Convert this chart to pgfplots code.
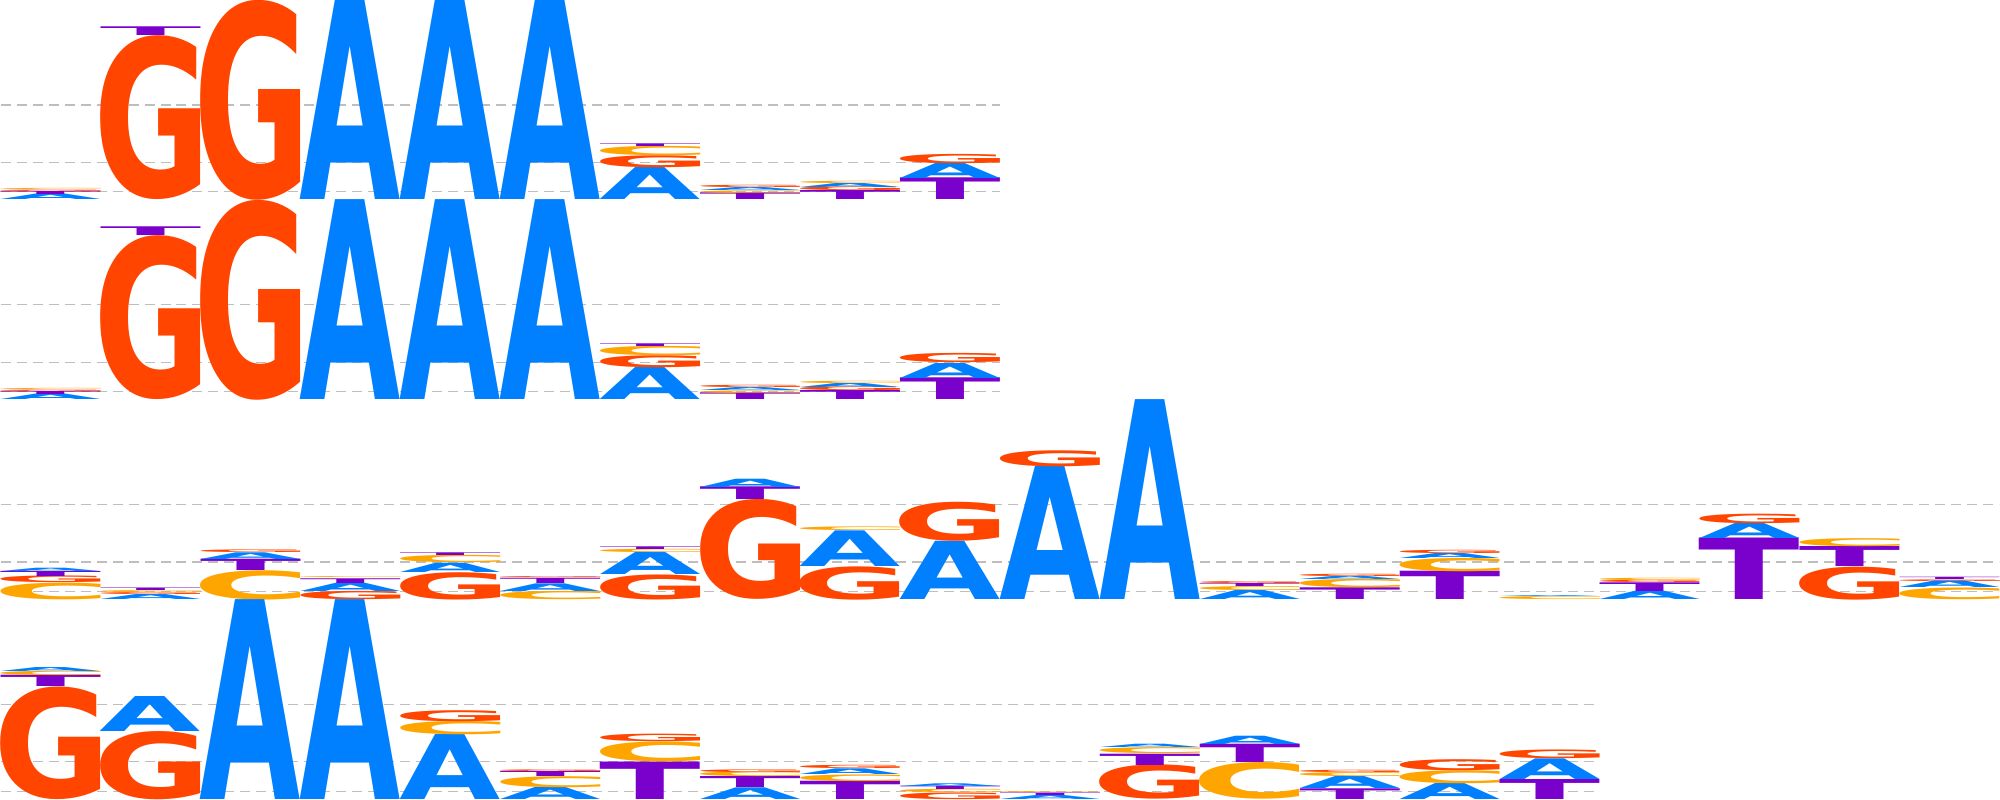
\documentclass[border=0pt]{standalone}
\usepackage{fontspec}
\usepackage{graphicx}
\usepackage{pgfplots}
\pgfplotsset{compat=1.18}
\newfontfamily\logofont{DejaVu Sans}
\definecolor{lcA}{HTML}{0080FF}
\definecolor{lcC}{HTML}{FFA500}
\definecolor{lcG}{HTML}{FF4500}
\definecolor{lcT}{HTML}{7A00CC}
\definecolor{gridc}{RGB}{190,190,190}
\newlength\logocolw \setlength\logocolw{50pt}
\newlength\logounit \setlength\logounit{50pt}
\newcommand{\logoglyph}[2]{%
  \begingroup\logofont\bfseries
  \dimen2=\XeTeXglyphbounds1 \XeTeXcharglyph`#1\relax
  \dimen4=\XeTeXglyphbounds3 \XeTeXcharglyph`#1\relax
  \setbox0=\hbox{\color{lc#1}\kern-\dimen2 #1\kern-\dimen4}%
  \resizebox*{\logocolw}{#2\logounit}{\box0}%
  \endgroup}
\pgfplotsset{
  logo/.style={x=50pt, y=50pt, xmin=0, ymin=0, ymax=2, hide axis, clip=false, anchor=south west},
  gridl/.style={gridc, line width=0.6pt, dash pattern=on 5pt off 3pt},
  letters/.style={only marks, mark=none,
    visualization depends on={value \thisrow{L}\as\ltr},
    visualization depends on={value \thisrow{h}\as\hh},
    nodes near coords={\expandafter\logoglyph\expandafter{\ltr}{\hh}},
    every node near coord/.append style={anchor=south, inner sep=0pt, outer sep=0pt}},
}
\begin{document}
\begin{tikzpicture}
% ---------------- row 1 ----------------
\begin{axis}[logo, xmax=10, at={(0pt,300pt)}]
\addplot[gridl] coordinates {(0,0.083) (10,0.083)};
\addplot[gridl] coordinates {(0,0.377) (10,0.377)};
\addplot[gridl] coordinates {(0,0.95) (10,0.95)};
\addplot[letters] table[x=x,y=y] {
x y h L
0.5 0 0.055 A
0.5 0.055 0.03 T
0.5 0.085 0.015 G
0.5 0.10 0.012 C
1.5 0 1.64 G
1.5 1.64 0.087 T
2.5 0 2.0 G
3.5 0 2.0 A
4.5 0 2.0 A
5.5 0 2.0 A
6.5 0 0.32 A
6.5 0.32 0.12 G
6.5 0.44 0.093 C
6.5 0.533 0.027 T
7.5 0 0.067 T
7.5 0.067 0.027 C
7.5 0.094 0.03 A
7.5 0.124 0.023 G
8.5 0 0.09 T
8.5 0.09 0.037 G
8.5 0.127 0.04 A
8.5 0.167 0.023 C
9.5 0 0.217 T
9.5 0.217 0.15 A
9.5 0.367 0.093 G
};
\end{axis}
% ---------------- row 2 ----------------
\begin{axis}[logo, xmax=10, at={(0pt,200pt)}]
\addplot[gridl] coordinates {(0,0.083) (10,0.083)};
\addplot[gridl] coordinates {(0,0.377) (10,0.377)};
\addplot[gridl] coordinates {(0,0.95) (10,0.95)};
\addplot[letters] table[x=x,y=y] {
x y h L
0.5 0 0.055 A
0.5 0.055 0.03 T
0.5 0.085 0.015 G
0.5 0.10 0.012 C
1.5 0 1.64 G
1.5 1.64 0.087 T
2.5 0 2.0 G
3.5 0 2.0 A
4.5 0 2.0 A
5.5 0 2.0 A
6.5 0 0.32 A
6.5 0.32 0.12 G
6.5 0.44 0.093 C
6.5 0.533 0.027 T
7.5 0 0.067 T
7.5 0.067 0.027 C
7.5 0.094 0.03 A
7.5 0.124 0.023 G
8.5 0 0.09 T
8.5 0.09 0.037 G
8.5 0.127 0.04 A
8.5 0.167 0.023 C
9.5 0 0.217 T
9.5 0.217 0.15 A
9.5 0.367 0.093 G
};
\end{axis}
% ---------------- row 3 ----------------
\begin{axis}[logo, xmax=20, at={(0pt,100pt)}]
\addplot[gridl] coordinates {(0,0.083) (20,0.083)};
\addplot[gridl] coordinates {(0,0.377) (20,0.377)};
\addplot[gridl] coordinates {(0,0.95) (20,0.95)};
\addplot[letters] table[x=x,y=y] {
x y h L
0.5 0 0.167 C
0.5 0.167 0.067 G
0.5 0.234 0.05 T
0.5 0.284 0.033 A
1.5 0 0.05 A
1.5 0.05 0.02 G
1.5 0.07 0.02 C
1.5 0.09 0.025 T
2.5 0 0.293 C
2.5 0.293 0.113 T
2.5 0.406 0.067 A
2.5 0.473 0.027 G
3.5 0 0.083 G
3.5 0.083 0.083 A
3.5 0.166 0.047 T
3.5 0.213 0.01 C
4.5 0 0.273 G
4.5 0.273 0.093 A
4.5 0.366 0.073 C
4.5 0.439 0.027 T
5.5 0 0.083 C
5.5 0.083 0.077 A
5.5 0.16 0.053 T
5.5 0.213 0.01 G
6.5 0 0.25 G
6.5 0.25 0.223 A
6.5 0.473 0.033 C
6.5 0.506 0.027 T
7.5 0 1.0 G
7.5 1.0 0.127 T
7.5 1.127 0.083 A
8.5 0 0.333 G
8.5 0.333 0.357 A
8.5 0.69 0.037 C
9.5 0 0.583 A
9.5 0.583 0.39 G
10.5 0 1.333 A
10.5 1.333 0.16 G
11.5 0 2.0 A
12.5 0 0.09 A
12.5 0.09 0.04 C
12.5 0.13 0.03 T
12.5 0.16 0.02 G
13.5 0 0.117 T
13.5 0.117 0.083 C
13.5 0.2 0.033 A
13.5 0.233 0.023 G
14.5 0 0.283 T
14.5 0.283 0.133 C
14.5 0.416 0.05 A
14.5 0.466 0.033 G
15.5 0 0.03 C
15.5 0.03 0.01 A
16.5 0 0.083 A
16.5 0.083 0.087 T
16.5 0.17 0.023 G
16.5 0.193 0.023 C
17.5 0 0.615 T
17.5 0.615 0.15 A
17.5 0.765 0.095 G
18.5 0 0.33 G
18.5 0.33 0.2 T
18.5 0.53 0.08 C
19.5 0 0.117 C
19.5 0.117 0.067 A
19.5 0.184 0.017 G
19.5 0.201 0.023 T
};
\end{axis}
% ---------------- row 4 ----------------
\begin{axis}[logo, xmax=16, at={(0pt,0pt)}]
\addplot[gridl] coordinates {(0,0.083) (16,0.083)};
\addplot[gridl] coordinates {(0,0.377) (16,0.377)};
\addplot[gridl] coordinates {(0,0.95) (16,0.95)};
\addplot[letters] table[x=x,y=y] {
x y h L
0.5 0 1.127 G
0.5 1.127 0.113 T
0.5 1.24 0.043 C
0.5 1.283 0.04 A
1.5 0 0.683 G
1.5 0.683 0.35 A
2.5 0 2.0 A
3.5 0 2.0 A
4.5 0 0.65 A
4.5 0.65 0.133 C
4.5 0.783 0.11 G
5.5 0 0.123 A
5.5 0.123 0.11 C
5.5 0.233 0.05 T
5.5 0.283 0.017 G
6.5 0 0.375 T
6.5 0.375 0.2 C
6.5 0.575 0.075 G
7.5 0 0.117 A
7.5 0.117 0.11 T
7.5 0.227 0.047 C
7.5 0.274 0.027 G
8.5 0 0.183 T
8.5 0.183 0.067 C
8.5 0.25 0.057 A
8.5 0.307 0.033 G
9.5 0 0.067 G
9.5 0.067 0.033 C
9.5 0.1 0.033 T
9.5 0.133 0.027 A
10.5 0 0.04 A
10.5 0.04 0.025 T
10.5 0.065 0.01 C
11.5 0 0.343 G
11.5 0.343 0.113 T
11.5 0.456 0.06 C
11.5 0.516 0.033 A
12.5 0 0.367 C
12.5 0.367 0.183 T
12.5 0.55 0.083 A
13.5 0 0.107 T
13.5 0.107 0.12 A
13.5 0.227 0.04 C
13.5 0.267 0.023 G
14.5 0 0.16 A
14.5 0.16 0.13 C
14.5 0.29 0.11 G
15.5 0 0.2 T
15.5 0.2 0.207 A
15.5 0.407 0.087 G
};
\end{axis}
\end{tikzpicture}
\end{document}
